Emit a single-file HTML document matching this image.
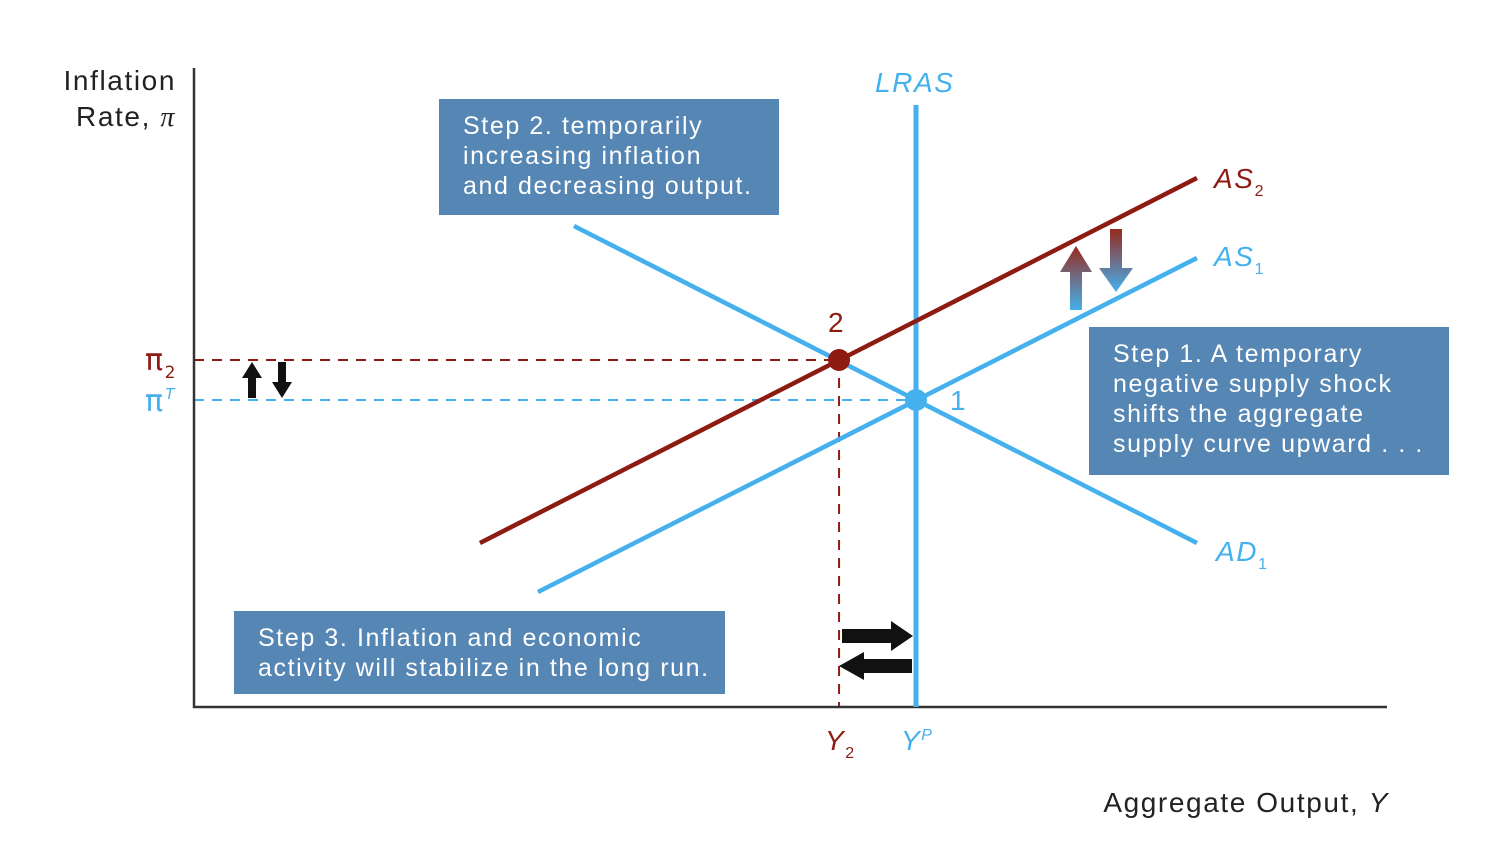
<!DOCTYPE html>
<html><head><meta charset="utf-8"><style>
html,body{margin:0;padding:0;background:#fff;}
svg{display:block;font-family:"Liberation Sans",sans-serif;}
svg text{letter-spacing:1.6px;}
</style></head><body>
<svg id="chart" width="1504" height="850" viewBox="0 0 1504 850">
<defs>
<linearGradient id="gUp" x1="0" y1="1" x2="0" y2="0"><stop offset="0" stop-color="#45b0ee"/><stop offset="1" stop-color="#962a1e"/></linearGradient>
<linearGradient id="gDown" x1="0" y1="0" x2="0" y2="1"><stop offset="0" stop-color="#962a1e"/><stop offset="1" stop-color="#45b0ee"/></linearGradient>
</defs>
<g id="plot"></g>
</svg>
<script>
// data in axis units (x: 0..100 output, y: 0..100 inflation)
const curveNames = ['AS2', 'AS1', 'AD1'];
const curveX0 = [23.97, 28.83, 31.85];
const curveY0 = [25.67, 18.0, 75.27];
const curveX1 = [84.07, 84.07, 84.07];
const curveY1 = [82.79, 70.27, 25.67];
const outputLevels = [54.07, 60.52]; // Y2, YP
const inflationLevels = [54.3, 48.04]; // pi2, piT
const lrasTop = [94.2];

const X = v => 194 + v * 11.93;
const Y = v => 707 - v * 6.39;
const NS = 'http://www.w3.org/2000/svg';
const g = document.getElementById('plot');
const RED = '#8e1b12', BLUE = '#45b0ee', BOX = '#5686b4';
function mk(tag, attrs, parent) {
  const e = document.createElementNS(NS, tag);
  for (const k in attrs) e.setAttribute(k, attrs[k]);
  (parent || g).appendChild(e);
  return e;
}
function txt(x, y, s, attrs) { const t = mk('text', Object.assign({x, y}, attrs)); t.innerHTML = s; return t; }

let e;
e = mk('line', {x1: X(0), y1: Y(inflationLevels[0]), x2: X(outputLevels[0]), y2: Y(inflationLevels[0]), stroke: RED, 'stroke-width': 2, 'stroke-dasharray': '10 8'});


e = mk('line', {x1: X(outputLevels[0]), y1: Y(inflationLevels[0]), x2: X(outputLevels[0]), y2: Y(0), stroke: RED, 'stroke-width': 2, 'stroke-dasharray': '10 8'});


e = mk('line', {x1: X(0), y1: Y(inflationLevels[1]), x2: X(outputLevels[1]), y2: Y(inflationLevels[1]), stroke: BLUE, 'stroke-width': 2, 'stroke-dasharray': '10 8'});



e = mk('polyline', {points: `${X(0)},68 ${X(0)},${Y(0)} 1387,${Y(0)}`, fill: 'none', stroke: '#333', 'stroke-width': 2.5});



e = mk('line', {x1: X(outputLevels[1]), y1: Y(lrasTop[0]), x2: X(outputLevels[1]), y2: Y(0), stroke: BLUE, 'stroke-width': 5});



const colors = [RED, BLUE, BLUE];
for (let i = 0; i < curveNames.length; i++) {
  const l = mk('line', {x1: X(curveX0[i]), y1: Y(curveY0[i]), x2: X(curveX1[i]), y2: Y(curveY1[i]), stroke: colors[i], 'stroke-width': 4.5});
  
  
}

e = mk('circle', {cx: X(outputLevels[0]), cy: Y(inflationLevels[0]), r: 11, fill: RED});


e = mk('circle', {cx: X(outputLevels[1]), cy: Y(inflationLevels[1]), r: 11, fill: BLUE});



const fs = {'font-size': 28};
e = txt(875, 92, 'LRAS', Object.assign({fill: BLUE, 'font-style': 'italic'}, fs));
 
e = txt(1214, 188, 'AS<tspan font-size="16" dy="8" font-style="normal">2</tspan>', Object.assign({fill: RED, 'font-style': 'italic'}, fs));
 
e = txt(1214, 266, 'AS<tspan font-size="16" dy="8" font-style="normal">1</tspan>', Object.assign({fill: BLUE, 'font-style': 'italic'}, fs));
 
e = txt(1216, 561, 'AD<tspan font-size="16" dy="8" font-style="normal">1</tspan>', Object.assign({fill: BLUE, 'font-style': 'italic'}, fs));
 
e = txt(828, 332, '2', Object.assign({fill: RED}, fs));
 
e = txt(950, 410, '1', Object.assign({fill: BLUE}, fs));
 
e = txt(145, 370, 'π<tspan font-size="17" dy="8">2</tspan>', {fill: RED, 'font-size': 30, 'font-family': 'DejaVu Sans, sans-serif', 'letter-spacing': '0'});
 
e = txt(145, 411, 'π<tspan font-size="16" dy="-12" font-style="italic" font-family="Liberation Sans">T</tspan>', {fill: BLUE, 'font-size': 30, 'font-family': 'DejaVu Sans, sans-serif', 'letter-spacing': '0'});
 
e = txt(825, 750, 'Y<tspan font-size="16" dy="8" font-style="normal">2</tspan>', {fill: RED, 'font-style': 'italic', 'font-size': 28});
 
e = txt(901, 750, 'Y<tspan font-size="16" dy="-10">P</tspan>', {fill: BLUE, 'font-style': 'italic', 'font-size': 28});
 
e = txt(176, 90, 'Inflation', {fill: '#222', 'font-size': 28, 'text-anchor': 'end'});
 
e = txt(176, 126, 'Rate, <tspan font-family="Liberation Serif" font-style="italic">π</tspan>', {fill: '#222', 'font-size': 28, 'text-anchor': 'end'});
 
e = txt(1389, 812, 'Aggregate Output, <tspan font-style="italic">Y</tspan>', {fill: '#222', 'font-size': 28, 'text-anchor': 'end'});
 

function box(name, x, y, w, h, lines) {
  const r = mk('rect', {x, y, width: w, height: h, fill: BOX});
  
  
  lines.forEach((s, i) => {
    const t = txt(x + 24, y + 35 + i * 30, s, {fill: '#fff', 'font-size': 25, 'letter-spacing': '1.4px'});
    
    
  });
}
box('step-2-box', 439, 99, 340, 116, ['Step 2. temporarily', 'increasing inflation', 'and decreasing output.']);
box('step-1-box', 1089, 327, 360, 148, ['Step 1. A temporary', 'negative supply shock', 'shifts the aggregate', 'supply curve upward . . .']);
box('step-3-box', 234, 611, 491, 83, ['Step 3. Inflation and economic', 'activity will stabilize in the long run.']);

function arrow(name, d, fill) {
  const p = mk('path', {d, fill});
  
  
}
arrow('shift-up-arrow', 'M1070,310 L1070,272 L1060,272 L1076,246 L1092,272 L1082,272 L1082,310 Z', 'url(#gUp)');
arrow('shift-down-arrow', 'M1110,229 L1122,229 L1122,268 L1133,268 L1116,292 L1099,268 L1110,268 Z', 'url(#gDown)');
arrow('pi-up-arrow', 'M248,398 L248,378 L242,378 L252,362 L262,378 L256,378 L256,398 Z', '#111');
arrow('pi-down-arrow', 'M278,362 L286,362 L286,382 L292,382 L282,398 L272,382 L278,382 Z', '#111');
arrow('output-right-arrow', 'M842,629 L891,629 L891,621 L913,636 L891,651 L891,643 L842,643 Z', '#111');
arrow('output-left-arrow', 'M912,659 L864,659 L864,652 L839,666 L864,680 L864,673 L912,673 Z', '#111');
</script>
</body></html>
